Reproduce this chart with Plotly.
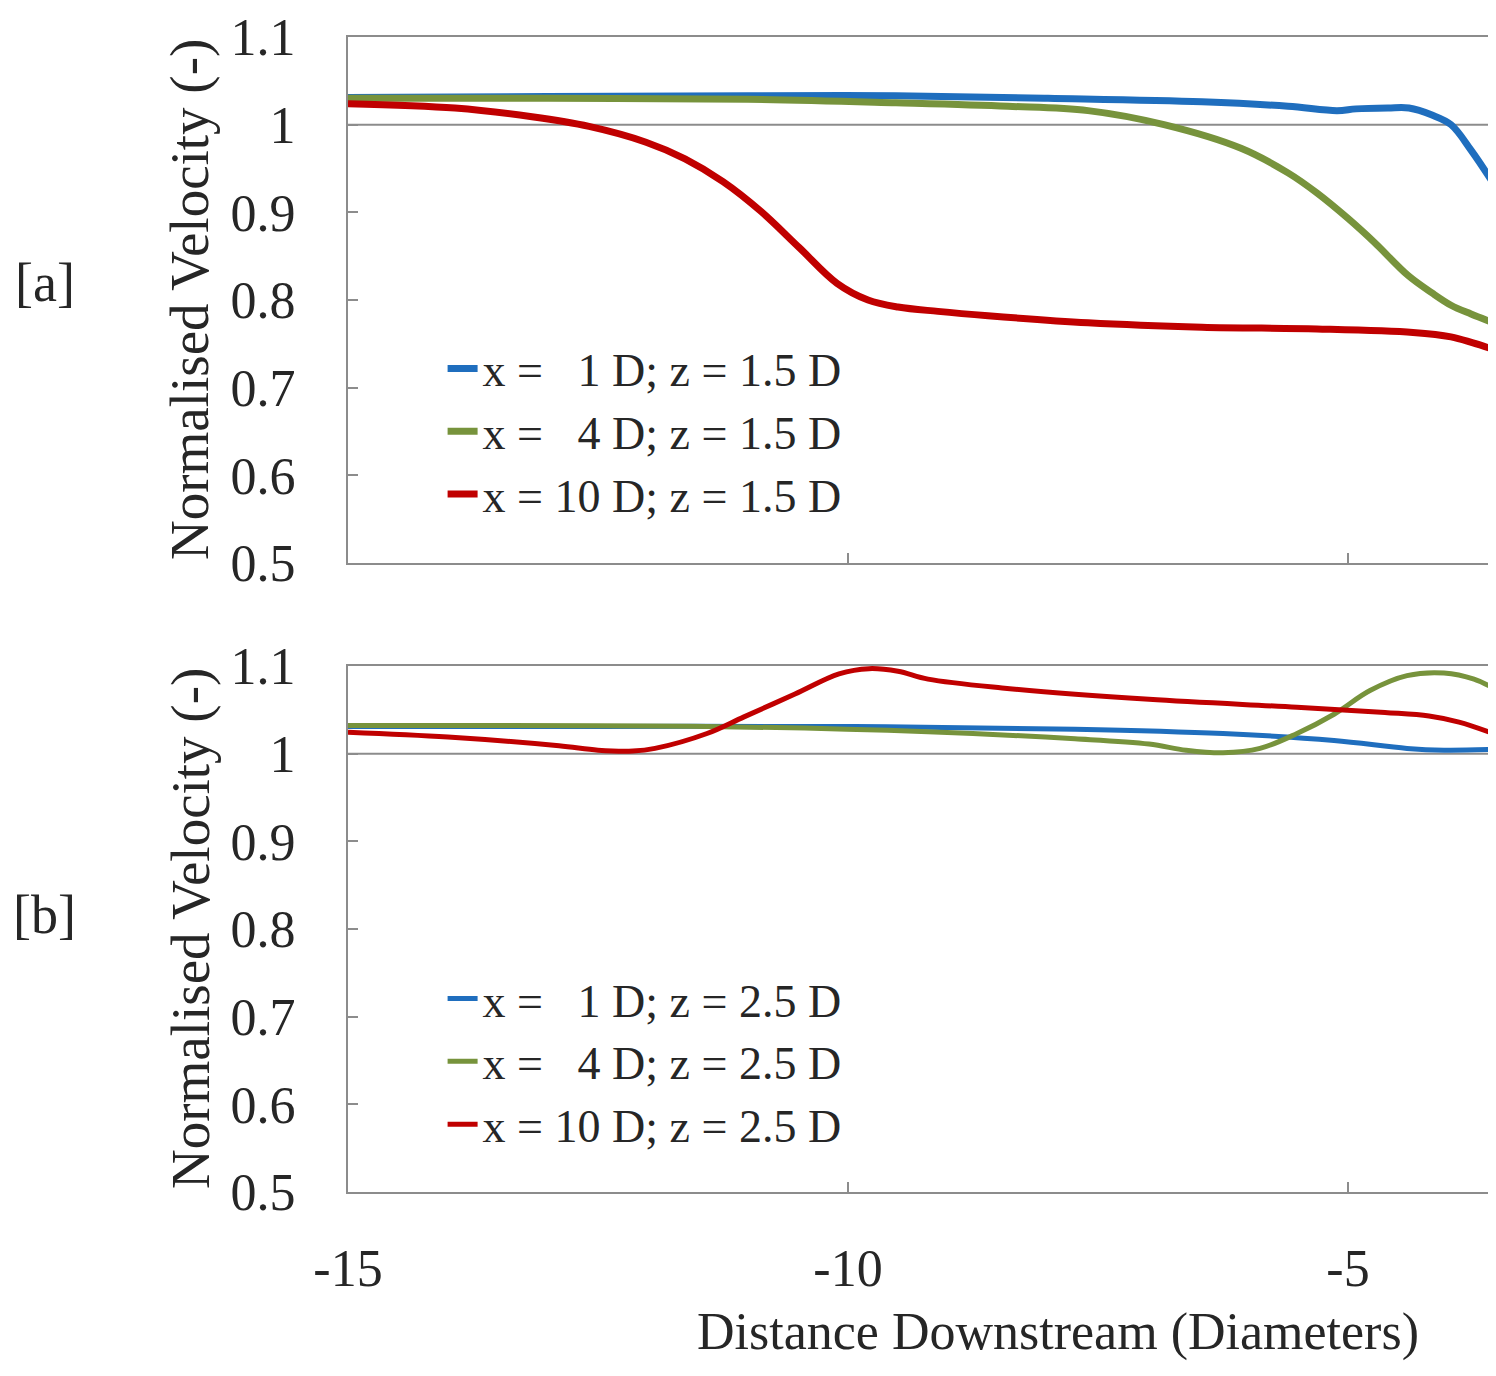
import plotly.graph_objects as go

# ---------------- data ----------------
# Panel [a]  z = 1.5 D
a_blue_x = [-15, -13, -11, -9.52, -8, -6.46, -5.6, -5.11, -4.92, -4.6, -4.39, -4.16, -3.97, -3.77, -3.5]
a_blue_y = [1.031, 1.032, 1.033, 1.033, 1.030, 1.026, 1.021, 1.016, 1.018, 1.019, 1.019, 1.011, 1.000, 0.971, 0.925]

a_green_x = [-15, -13, -11, -9.52, -8.4, -7.6, -6.84, -6.07, -5.6, -5.31, -5.0, -4.73, -4.4, -4.16, -3.97, -3.77, -3.5]
a_green_y = [1.030, 1.030, 1.029, 1.025, 1.021, 1.016, 1.000, 0.973, 0.945, 0.922, 0.893, 0.865, 0.828, 0.808, 0.794, 0.784, 0.772]

a_red_x = [-15, -13.93, -13.16, -12.59, -12.02, -11.63, -11.25, -10.87, -10.49, -10.11, -9.80, -9.50, -9.10, -8.60, -7.60, -6.46, -5.31, -4.35, -3.97, -3.75, -3.5]
a_red_y = [1.024, 1.019, 1.009, 0.998, 0.980, 0.961, 0.935, 0.901, 0.860, 0.819, 0.800, 0.792, 0.787, 0.782, 0.774, 0.769, 0.767, 0.763, 0.758, 0.751, 0.742]

# Panel [b]  z = 2.5 D
b_blue_x = [-15, -12.5, -9.94, -7.73, -6.25, -5.14, -4.41, -4.04, -3.5]
b_blue_y = [1.031, 1.031, 1.031, 1.028, 1.023, 1.015, 1.006, 1.004, 1.005]

b_green_x = [-15, -11.41, -9.20, -7.73, -6.99, -6.62, -6.25, -5.88, -5.51, -5.14, -4.78, -4.41, -4.04, -3.74, -3.5]
b_green_y = [1.032, 1.031, 1.025, 1.017, 1.011, 1.004, 1.001, 1.006, 1.023, 1.045, 1.072, 1.089, 1.092, 1.085, 1.072]

b_red_x = [-15, -14.0, -12.89, -12.5, -12.15, -11.93, -11.41, -11.04, -10.53, -10.09, -9.79, -9.50, -9.20, -8.46, -6.99, -5.51, -4.63, -4.19, -3.89, -3.5]
b_red_y = [1.0245, 1.019, 1.009, 1.004, 1.003, 1.006, 1.023, 1.042, 1.068, 1.091, 1.097, 1.094, 1.085, 1.075, 1.062, 1.053, 1.047, 1.043, 1.036, 1.021]

nb = "\u00a0"
a_names = [f"x = {nb}{nb}1 D; z = 1.5 D", f"x = {nb}{nb}4 D; z = 1.5 D", "x = 10 D; z = 1.5 D"]
b_names = [f"x = {nb}{nb}1 D; z = 2.5 D", f"x = {nb}{nb}4 D; z = 2.5 D", "x = 10 D; z = 2.5 D"]

y_ticks = [0.5, 0.6, 0.7, 0.8, 0.9, 1.0, 1.1]
x_ticks = [-15, -10, -5]
x_ticktext = ["-15", "-10", "-5"]
x_range = [-15, -3.52]

BLUE = "#1F6EBE"
GREEN = "#77933C"
RED = "#C00000"
FONT = "Liberation Serif"
TXT = "#262626"
AX = "#8C8C8C"

fig = go.Figure()

for xs, ys, name, col in [(a_blue_x, a_blue_y, a_names[0], BLUE),
                          (a_green_x, a_green_y, a_names[1], GREEN),
                          (a_red_x, a_red_y, a_names[2], RED)]:
    fig.add_trace(go.Scatter(x=xs, y=ys, mode="lines", name=name, line=dict(color=col, width=7, shape="spline"),
                             xaxis="x", yaxis="y", legend="legend"))

for xs, ys, name, col in [(b_blue_x, b_blue_y, b_names[0], BLUE),
                          (b_green_x, b_green_y, b_names[1], GREEN),
                          (b_red_x, b_red_y, b_names[2], RED)]:
    fig.add_trace(go.Scatter(x=xs, y=ys, mode="lines", name=name, line=dict(color=col, width=5, shape="spline"),
                             xaxis="x2", yaxis="y2", legend="legend2"))

axis_common = dict(showgrid=False, zeroline=False, showline=True, linecolor=AX, linewidth=2,
                   ticks="inside", ticklen=10, tickwidth=2, tickcolor=AX)
tickfont = dict(size=52, family=FONT, color=TXT)

fig.update_layout(
    width=1488, height=1360,
    margin=dict(l=340, r=0, t=29, b=176),
    paper_bgcolor="white", plot_bgcolor="white",
    font=dict(family=FONT, color=TXT, size=46),
    xaxis=dict(domain=[0, 1], anchor="y", range=x_range, tickvals=x_ticks, ticktext=x_ticktext,
               showticklabels=False, mirror=True, **axis_common),
    yaxis=dict(domain=[0.5446, 1.0], anchor="x", range=[0.5, 1.1], tickvals=y_ticks,
               ticklabelstandoff=40, tickfont=tickfont, **axis_common),
    xaxis2=dict(domain=[0, 1], anchor="y2", range=x_range, tickvals=x_ticks, ticktext=x_ticktext,
                ticklabelstandoff=30, tickfont=tickfont, mirror=True, **axis_common),
    yaxis2=dict(domain=[0, 0.4554], anchor="x2", range=[0.5, 1.1], tickvals=y_ticks,
                ticklabelstandoff=40, tickfont=tickfont, **axis_common),
    legend=dict(x=0.0824, y=0.7445, xanchor="left", yanchor="top", bgcolor="rgba(0,0,0,0)",
                font=dict(size=46, family=FONT, color=TXT), tracegroupgap=0),
    legend2=dict(x=0.0824, y=0.199, xanchor="left", yanchor="top", bgcolor="rgba(0,0,0,0)",
                 font=dict(size=46, family=FONT, color=TXT), tracegroupgap=0),
    showlegend=True,
)

# reference line at 1.0 in both panels
for yr, xr in [("y", "x domain"), ("y2", "x2 domain")]:
    fig.add_shape(type="line", xref=xr, yref=yr, x0=0, x1=1, y0=1.0, y1=1.0,
                  line=dict(color=AX, width=2), layer="below")

ann = [
    dict(text="Normalised Velocity (-)", x=-0.1376, y=0.7723, textangle=-90, size=55),
    dict(text="Normalised Velocity (-)", x=-0.1376, y=0.2277, textangle=-90, size=55),
    dict(text="[a]", x=-0.264, y=0.787, textangle=0, size=54),
    dict(text="[b]", x=-0.264, y=0.2398, textangle=0, size=54),
]
for a in ann:
    fig.add_annotation(text=a["text"], xref="paper", yref="paper", x=a["x"], y=a["y"],
                       xanchor="center", yanchor="middle", textangle=a["textangle"], showarrow=False,
                       font=dict(size=a["size"], family=FONT, color=TXT))

fig.add_annotation(text="Distance Downstream (Diameters)", xref="paper", yref="paper",
                   x=0.302, y=-0.121, xanchor="left", yanchor="middle", showarrow=False,
                   font=dict(size=52, family=FONT, color=TXT))

fig.write_html("out.html")
